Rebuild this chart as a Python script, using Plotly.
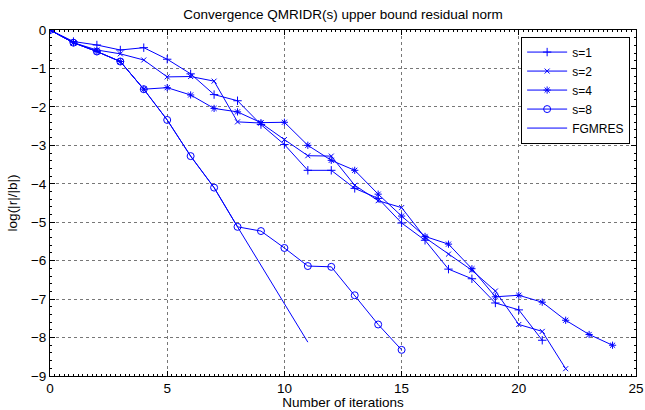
import plotly.graph_objects as go

it_s1 = list(range(0, 22))
res_s1 = [0, -0.30, -0.39, -0.52, -0.46, -0.76, -1.14, -1.68, -1.84, -2.46, -2.98,
          -3.65, -3.65, -4.12, -4.38, -5.02, -5.47, -6.22, -6.47, -7.10, -7.28, -8.07]

it_s2 = list(range(0, 23))
res_s2 = [0, -0.33, -0.52, -0.62, -0.78, -1.22, -1.21, -1.33, -2.39, -2.42, -2.85,
          -3.27, -3.28, -4.04, -4.44, -4.62, -5.40, -5.83, -6.25, -6.79, -7.66, -7.84, -8.81]

it_s4 = list(range(0, 25))
res_s4 = [0, -0.33, -0.56, -0.82, -1.54, -1.50, -1.69, -2.04, -2.13, -2.41, -2.40,
          -3.00, -3.39, -3.65, -4.27, -4.84, -5.37, -5.57, -6.21, -6.94, -6.90, -7.08,
          -7.55, -7.92, -8.20]

it_s8 = list(range(0, 16))
res_s8 = [0, -0.33, -0.56, -0.82, -1.54, -2.34, -3.28, -4.10, -5.12, -5.23, -5.67,
          -6.14, -6.16, -6.90, -7.66, -8.32]

it_fg = list(range(0, 12))
res_fg = [0, -0.33, -0.56, -0.82, -1.54, -2.34, -3.28, -4.10, -5.12, -6.12, -7.15, -8.12]

names = ["s=1", "s=2", "s=4", "s=8", "FGMRES"]
x_ticks = [0, 5, 10, 15, 20, 25]
y_ticks = [0, -1, -2, -3, -4, -5, -6, -7, -8, -9]

BLUE = "#0000ff"
FONT = "Liberation Sans, Arial, sans-serif"

fig = go.Figure()

series = [
    (it_s1, res_s1, "cross-thin-open", 6),
    (it_s2, res_s2, "x-thin-open", 5),
    (it_s4, res_s4, "asterisk-open", 6),
    (it_s8, res_s8, "circle-open", 7),
]
for (xs, ys, sym, sz), nm in zip(series, names[:4]):
    fig.add_trace(go.Scatter(
        x=xs, y=ys, mode="lines+markers", name=nm,
        line=dict(color=BLUE, width=1),
        marker=dict(symbol=sym, size=sz, color=BLUE, line=dict(color=BLUE, width=1)),
    ))
fig.add_trace(go.Scatter(
    x=it_fg, y=res_fg, mode="lines", name=names[4],
    line=dict(color=BLUE, width=1),
))

axis_common = dict(
    showline=True, linecolor="black", linewidth=1, mirror="ticks",
    ticks="inside", ticklen=5, tickcolor="black",
    showgrid=True, gridcolor="#777777", griddash="dot", gridwidth=1,
    zeroline=False, tickfont=dict(family=FONT, size=13.5, color="black"),
)

fig.update_xaxes(
    range=[0, 25], tickvals=x_ticks,
    title=dict(text="Number of iterations", font=dict(family=FONT, size=13.5, color="black"), standoff=1),
    minor=dict(ticks="inside", ticklen=2, tickcolor="black", dtick=0.2, showgrid=False),
    **axis_common,
)
fig.update_yaxes(
    range=[-9, 0], tickvals=y_ticks,
    title=dict(text="log(|r|/|b|)", font=dict(family=FONT, size=13.5, color="black"), standoff=10),
    minor=dict(ticks="inside", ticklen=2, tickcolor="black", dtick=0.2, showgrid=False),
    **axis_common,
)

fig.update_layout(
    width=645, height=410,
    margin=dict(l=50, r=9, t=30, b=34, autoexpand=False),
    paper_bgcolor="white", plot_bgcolor="white",
    title=dict(text="Convergence QMRIDR(s) upper bound residual norm",
               x=0.5, xref="paper", y=1 - 14 / 410, yanchor="middle",
               font=dict(family=FONT, size=13.5, color="black")),
    legend=dict(x=0.99, y=0.981, xanchor="right", yanchor="top",
                bordercolor="black", borderwidth=1, bgcolor="white",
                font=dict(family=FONT, size=12, color="black"),
                tracegroupgap=0, itemwidth=40),
    showlegend=True,
)

fig.write_html("out.html")
